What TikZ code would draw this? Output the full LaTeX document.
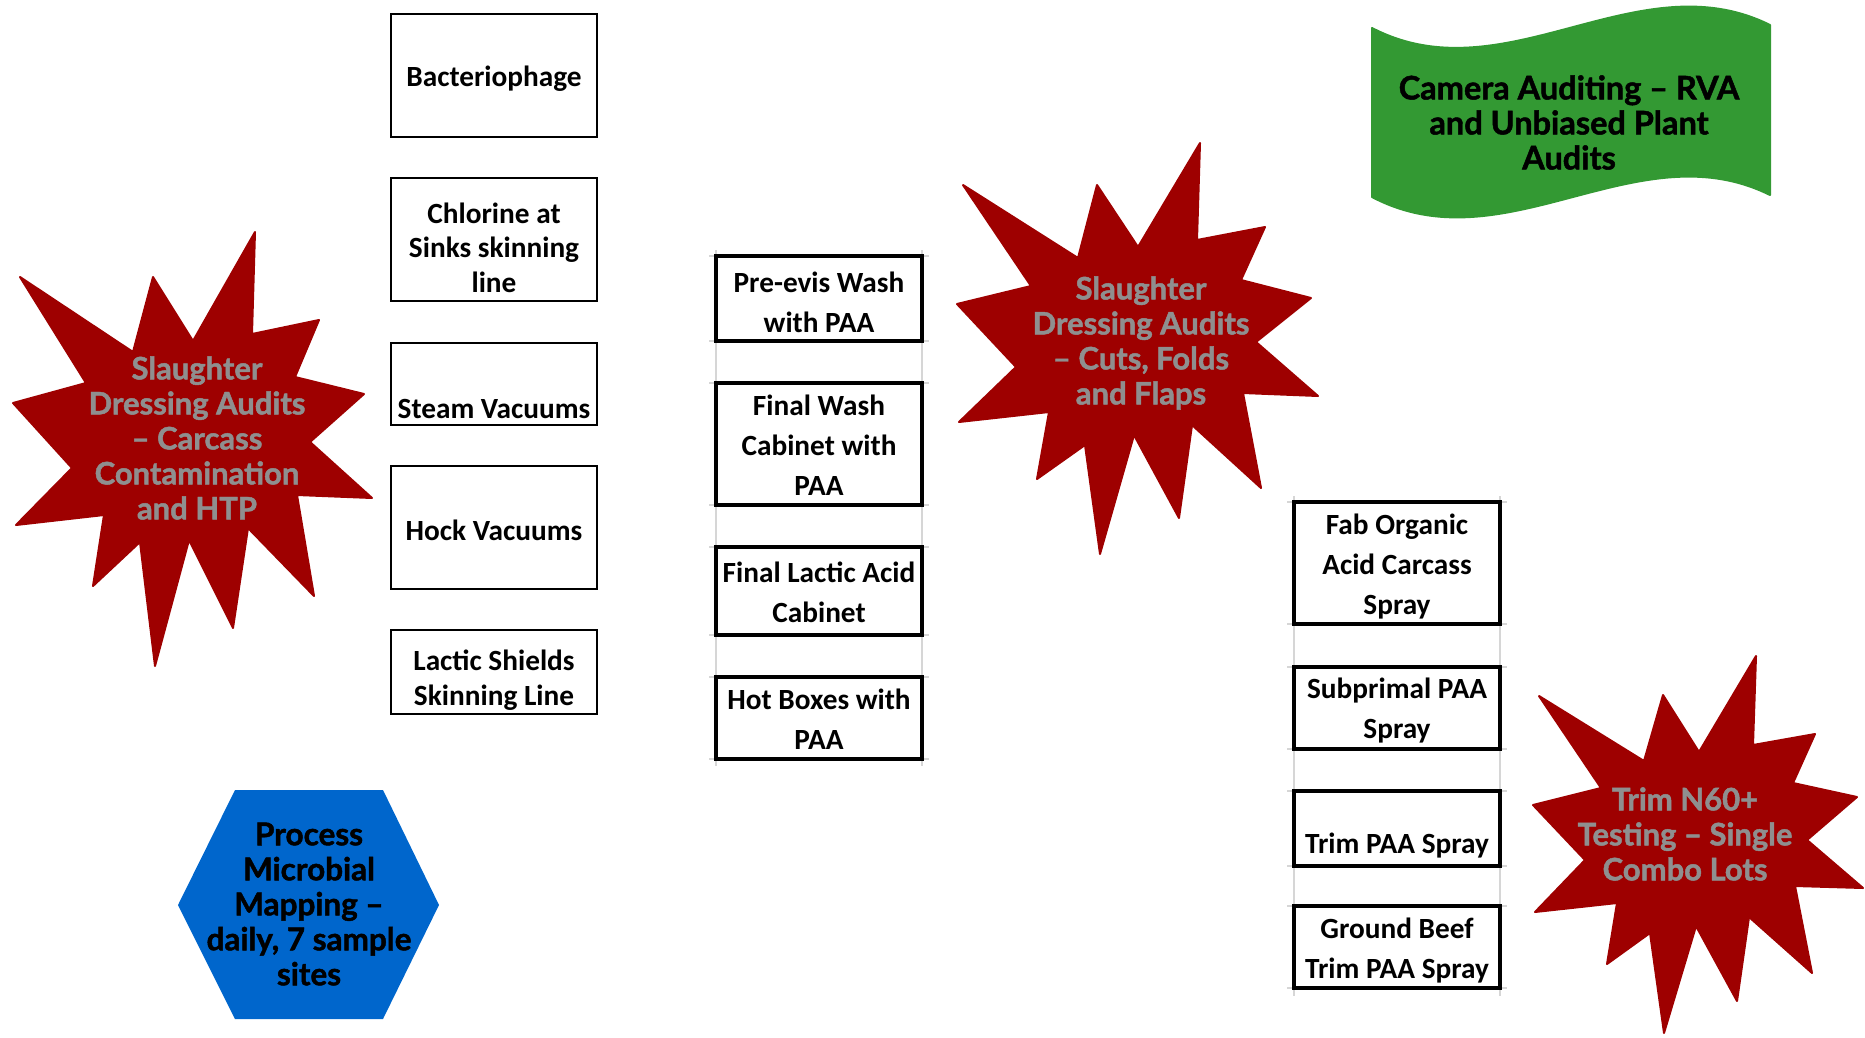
\documentclass[tikz,border=0pt]{standalone}
\usepackage{fontspec}
\setmainfont{Carlito}
\newfontfamily\gill[BoldFeatures={FakeBold=1.5}]{Lato}
\definecolor{starred}{RGB}{158,0,0}
\definecolor{startext}{RGB}{143,143,143}
\definecolor{wavegreen}{RGB}{51,153,51}
\definecolor{hexblue}{RGB}{0,102,204}
\begin{document}
\begin{tikzpicture}[x=1pt,y=-1pt,
  boxl/.style={draw=black, line width=2.4pt, fill=white, minimum width=206pt, inner sep=0pt},
  boxm/.style={boxl, line width=3.2pt},
  txtl/.style={align=center, inner sep=0pt, font=\bfseries\fontsize{29.3}{34.5}\selectfont},
  txtm/.style={align=center, inner sep=0pt, font=\bfseries\fontsize{29.3}{40}\selectfont},
  gridline/.style={draw=black!16, line width=1.3pt},
  startxt/.style={text=startext, align=center, font=\gill\bfseries\fontsize{31}{35}\selectfont},
  shapetxt/.style={text=black, align=center, font=\gill\bfseries\fontsize{31.5}{35}\selectfont},
  starshape/.style={fill=starred, draw=starred, line width=2pt, line join=round},
]
\useasboundingbox (0,0) rectangle (1865,1038);

% ---------- left star ----------
\path[starshape] (20,277) -- (133,352) -- (153,277) -- (193,341) -- (255,232) -- (252,334) -- (319,320) -- (295,377)
  -- (364,394) -- (310,442) -- (372,498) -- (297,495) -- (314,596) -- (248,528) -- (233,628) -- (189,540)
  -- (155,666) -- (140,542) -- (93,586) -- (104,515) -- (16,525) -- (72,468) -- (13,403) -- (86,383) -- cycle;
\node[startxt] (s1) at (197,438) {Slaughter\\Dressing Audits\\– Carcass\\Contamination\\and HTP};

% ---------- middle star ----------
\path[starshape] (963,185) -- (1078,258) -- (1097,185) -- (1138,247) -- (1200,143) -- (1197,240) -- (1265,227) -- (1241,280)
  -- (1311,298) -- (1256,342) -- (1318,396) -- (1243,393) -- (1261,488) -- (1192,425) -- (1179,518) -- (1134,435)
  -- (1100,554) -- (1085,445) -- (1037,479) -- (1049,412) -- (959,422) -- (1016,367) -- (957,304) -- (1031,286) -- cycle;
\node[startxt] (s2) at (1141,343) {Slaughter\\Dressing Audits\\– Cuts, Folds\\and Flaps};

% ---------- right star ----------
\path[starshape] (1539,696) -- (1644,761) -- (1663,695) -- (1699,752) -- (1756,656) -- (1753,745) -- (1815,734) -- (1793,783)
  -- (1857,797) -- (1807,840) -- (1863,888) -- (1795,886) -- (1812,973) -- (1749,917) -- (1737,1001) -- (1696,926)
  -- (1664,1033) -- (1650,933) -- (1607,964) -- (1617,903) -- (1535,912) -- (1585,860) -- (1533,805) -- (1601,788) -- cycle;
\node[startxt] (s3) at (1685,834) {Trim N60+\\Testing – Single\\Combo Lots};

% ---------- green wave ----------
\path[fill=wavegreen, draw=wavegreen, line width=2pt, line join=round]
  (1372,28) .. controls (1505,97) and (1637,-41) .. (1770,25) -- (1770,195)
  .. controls (1637,129) and (1505,267) .. (1372,197) -- cycle;
\node[shapetxt, font=\gill\bfseries\fontsize{32.5}{35}\selectfont] (wave) at (1569,122.5) {Camera Auditing – RVA\\and Unbiased Plant\\Audits};

% ---------- blue hexagon ----------
\path[fill=hexblue] (235,790) -- (383,790) -- (439,905) -- (383,1019) -- (235,1019) -- (178,905) -- cycle;
\node[shapetxt] (hex) at (309,904) {Process\\Microbial\\Mapping –\\daily, 7 sample\\sites};

% ---------- left column ----------
\node[boxl, minimum height=123pt] (b1) at (494,75.5) {};
\node[txtl] (t1) at ([yshift=-3.5pt]b1.center) {Bacteriophage};
\node[boxl, minimum height=123pt] (b2) at (494,239.5) {};
\node[txtl] (t2) at ([yshift=-8pt]b2.center) {Chlorine at\\Sinks skinning\\line};
\node[boxl, minimum height=82pt] (b3) at (494,384) {};
\node[txtl] (t3) at ([yshift=-25pt]b3.center) {Steam Vacuums};
\node[boxl, minimum height=123pt] (b4) at (494,527.5) {};
\node[txtl] (t4) at ([yshift=-2.5pt]b4.center) {Hock Vacuums};
\node[boxl, minimum height=84pt] (b5) at (494,672) {};
\node[txtl] (t5) at ([yshift=-8pt]b5.center) {Lactic Shields\\Skinning Line};

% ---------- middle column grid ----------
\draw[gridline] (716,250) -- (716,766);
\draw[gridline] (922,250) -- (922,766);
\foreach \yy in {256,341,383,505,547,635,677,759}
  \draw[gridline] (709,\yy) -- (929,\yy);

\node[boxm, minimum height=85pt] (m1) at (819,298.5) {};
\node[txtm] (u1) at ([yshift=-3.5pt]m1.center) {Pre-evis Wash\\with PAA};
\node[boxm, minimum height=122pt] (m2) at (819,444) {};
\node[txtm] (u2) at ([yshift=-1.5pt]m2.center) {Final Wash\\Cabinet with\\PAA};
\node[boxm, minimum height=88pt] (m3) at (819,591) {};
\node[txtm] (u3) at ([yshift=-1.5pt]m3.center) {Final Lactic Acid\\Cabinet};
\node[boxm, minimum height=82pt] (m4) at (819,718) {};
\node[txtm] (u4) at ([yshift=-1pt]m4.center) {Hot Boxes with\\PAA};

% ---------- right column grid ----------
\draw[gridline] (1294,496) -- (1294,996);
\draw[gridline] (1500,496) -- (1500,996);
\foreach \yy in {502,624,667,749,791,866,906,988}
  \draw[gridline] (1287,\yy) -- (1507,\yy);

\node[boxm, minimum height=122pt] (r1) at (1397,563) {};
\node[txtm] (v1) at ([yshift=-3.5pt]r1.center) {Fab Organic\\Acid Carcass\\Spray};
\node[boxm, minimum height=82pt] (r2) at (1397,708) {};
\node[txtm] (v2) at ([yshift=-2.5pt]r2.center) {Subprimal PAA\\Spray};
\node[boxm, minimum height=75pt] (r3) at (1397,828.5) {};
\node[txtm] (v3) at ([yshift=-17pt]r3.center) {Trim PAA Spray};
\node[boxm, minimum height=82pt] (r4) at (1397,947) {};
\node[txtm] (v4) at ([yshift=-3.5pt]r4.center) {Ground Beef\\Trim PAA Spray};
\end{tikzpicture}
\end{document}
